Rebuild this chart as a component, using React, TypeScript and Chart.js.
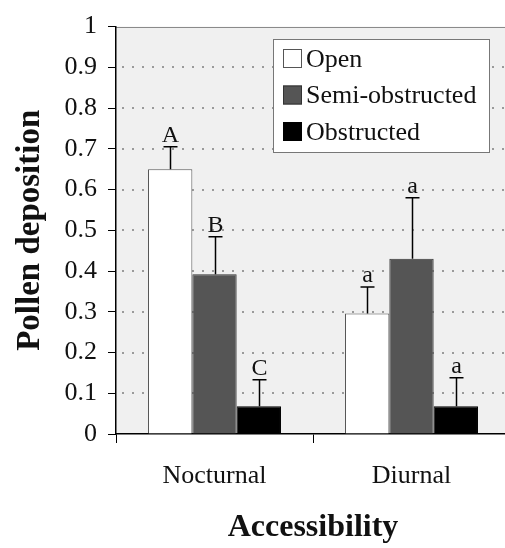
import React, { useEffect, useRef } from "react";
import { Chart, registerables } from "chart.js";

Chart.register(...registerables);

const categories = ["Nocturnal", "Diurnal"];
const seriesNames = ["Open", "Semi-obstructed", "Obstructed"];
const openValues = [0.65, 0.296];
const semiValues = [0.392, 0.43];
const obstructedValues = [0.068, 0.068];
const openErrors = [0.055, 0.065];
const semiErrors = [0.092, 0.15];
const obstructedErrors = [0.065, 0.07];
const openLetters = ["A", "a"];
const semiLetters = ["B", "a"];
const obstructedLetters = ["C", "a"];
const yTicks = [0, 0.1, 0.2, 0.3, 0.4, 0.5, 0.6, 0.7, 0.8, 0.9, 1];

const FONT = "'Liberation Serif', 'Times New Roman', serif";
const CANVAS_W = 520;
const CANVAS_H = 548;

const decorPlugin = {
  id: "decor",
  beforeDraw(chart: any) {
    const { ctx, chartArea } = chart;
    const y = chart.scales.y;
    ctx.save();
    ctx.fillStyle = "#f0f0f0";
    ctx.fillRect(chartArea.left, chartArea.top, chartArea.right - chartArea.left, chartArea.bottom - chartArea.top);
    ctx.strokeStyle = "#8a8a8a";
    ctx.lineWidth = 1;
    ctx.beginPath();
    ctx.moveTo(chartArea.left, Math.round(chartArea.top) + 0.5);
    ctx.lineTo(chartArea.right, Math.round(chartArea.top) + 0.5);
    ctx.stroke();
    ctx.fillStyle = "#9a9a9a";
    yTicks.forEach((t) => {
      if (t <= 0 || t >= 1) return;
      const py = Math.round(y.getPixelForValue(t));
      for (let x = chartArea.left + 6; x < chartArea.right; x += 10) {
        ctx.fillRect(x, py - 1, 2, 2);
      }
    });
    ctx.restore();
  },
  afterDatasetsDraw(chart: any) {
    const { ctx } = chart;
    const y = chart.scales.y;
    const errs = [openErrors, semiErrors, obstructedErrors];
    const letters = [openLetters, semiLetters, obstructedLetters];
    ctx.save();
    chart.data.datasets.forEach((ds: any, di: number) => {
      const meta = chart.getDatasetMeta(di);
      meta.data.forEach((bar: any, i: number) => {
        const v = ds.data[i];
        const top = y.getPixelForValue(v + errs[di][i]);
        const base = y.getPixelForValue(v);
        const x = Math.round(bar.x) + 0.5;
        ctx.strokeStyle = "#000";
        ctx.lineWidth = 1.5;
        ctx.beginPath();
        ctx.moveTo(x, base);
        ctx.lineTo(x, top);
        ctx.moveTo(x - 7, top);
        ctx.lineTo(x + 7, top);
        ctx.stroke();
        ctx.fillStyle = "#111";
        ctx.font = `24px ${FONT}`;
        ctx.textAlign = "center";
        ctx.textBaseline = "alphabetic";
        ctx.fillText(letters[di][i], x, top - 5);
      });
    });
    ctx.restore();
  },
  afterDraw(chart: any) {
    const { ctx } = chart;
    const colors = ["#ffffff", "#555555", "#000000"];
    const borders = ["#555555", "#333333", "#000000"];
    const bx = 273, by = 39, bw = 216, bh = 113;
    ctx.save();
    ctx.fillStyle = "#ffffff";
    ctx.fillRect(bx, by, bw, bh);
    ctx.strokeStyle = "#777777";
    ctx.lineWidth = 1;
    ctx.strokeRect(bx + 0.5, by + 0.5, bw, bh);
    seriesNames.forEach((name, i) => {
      const cy = 59 + i * 36.5;
      ctx.fillStyle = colors[i];
      ctx.fillRect(283, cy - 10, 19, 19);
      ctx.strokeStyle = borders[i];
      ctx.strokeRect(283.5, cy - 9.5, 18, 18);
      ctx.fillStyle = "#111";
      ctx.font = `26px ${FONT}`;
      ctx.textAlign = "left";
      ctx.textBaseline = "middle";
      ctx.fillText(name, 306, cy + 1);
    });
    ctx.restore();
  },
};

export default function App() {
  const ref = useRef<HTMLCanvasElement | null>(null);
  useEffect(() => {
    document.body.style.margin = "0";
    document.body.style.overflow = "hidden";
    const canvas = ref.current;
    if (!canvas) return;
    const chart = new Chart(canvas, {
      type: "bar",
      data: {
        labels: categories,
        datasets: [
          { label: seriesNames[0], data: openValues, backgroundColor: "#ffffff", borderColor: "#555555", borderWidth: 1 },
          { label: seriesNames[1], data: semiValues, backgroundColor: "#555555", borderColor: "#333333", borderWidth: 1 },
          { label: seriesNames[2], data: obstructedValues, backgroundColor: "#000000", borderColor: "#000000", borderWidth: 1 },
        ],
      },
      options: {
        responsive: false,
        animation: false,
        devicePixelRatio: 1,
        layout: { padding: { top: 15, left: 0, right: CANVAS_W - 510, bottom: 0 } },
        datasets: { bar: { categoryPercentage: 0.675, barPercentage: 1 } },
        plugins: { legend: { display: false }, tooltip: { enabled: false } },
        scales: {
          x: {
            grid: { display: true, drawOnChartArea: false, offset: true, tickLength: 9, tickColor: "#000", tickWidth: 1 },
            border: { display: true, color: "#000", width: 1.5 },
            ticks: { color: "#111", font: { family: FONT, size: 26 }, padding: 18 },
            title: { display: true, text: "Accessibility", color: "#111", font: { family: FONT, size: 32, weight: "bold" }, padding: { top: 0, bottom: 1 } },
            afterFit: (s: any) => { s.height = 114; },
          },
          y: {
            min: 0,
            max: 1,
            afterBuildTicks: (s: any) => { s.ticks = yTicks.map((v) => ({ value: v })); },
            grid: { display: true, drawOnChartArea: false, tickLength: 8, tickColor: "#000", tickWidth: 1 },
            border: { display: true, color: "#000", width: 1.5 },
            ticks: { color: "#111", font: { family: FONT, size: 26 }, padding: 11, callback: (v: any) => String(Math.round(Number(v) * 10) / 10) },
            title: { display: true, text: "Pollen deposition", color: "#111", font: { family: FONT, size: 33, weight: "bold" }, padding: { top: 11, bottom: 0 } },
            afterFit: (s: any) => { s.width = 116; },
          },
        },
      },
      plugins: [decorPlugin],
    });
    return () => chart.destroy();
  }, []);
  return (
    <div style={{ width: 505, height: 548, overflow: "hidden", position: "relative", background: "#fff" }}>
      <canvas ref={ref} width={CANVAS_W} height={CANVAS_H} style={{ width: CANVAS_W, height: CANVAS_H, display: "block" }} />
    </div>
  );
}
